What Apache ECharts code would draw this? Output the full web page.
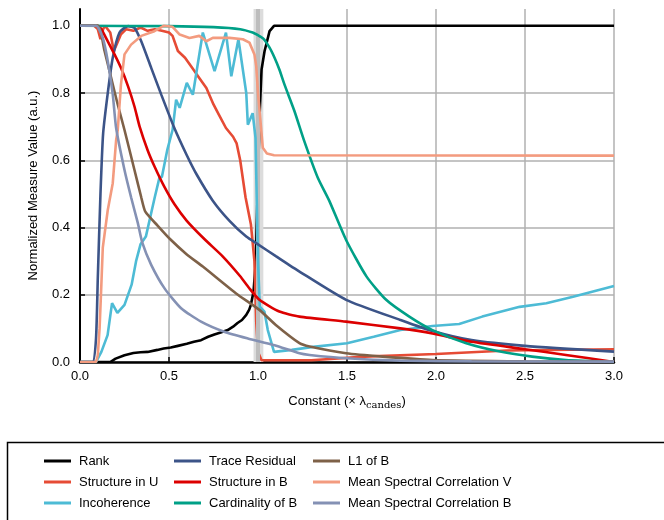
<!DOCTYPE html>
<html>
<head>
<meta charset="utf-8">
<script src="https://cdn.jsdelivr.net/npm/echarts@6/dist/echarts.min.js"></script>
<style>html,body{margin:0;padding:0;background:#fff}#c{width:664px;height:520px}</style>
</head>
<body>
<div id="c"></div>
<script>
const xTicks = [0, 0.5, 1.0, 1.5, 2.0, 2.5, 3.0];
const yTicks = [0, 0.2, 0.4, 0.6, 0.8, 1.0];
const seriesNames = ["Rank", "Structure in U", "Incoherence", "Trace Residual", "Structure in B", "Cardinality of B", "L1 of B", "Mean Spectral Correlation V", "Mean Spectral Correlation B"];

const rank = [[0,0],[0.17,0],[0.2,0.01],[0.25,0.02],[0.3,0.027],[0.34,0.029],[0.38,0.03],[0.435,0.036],[0.47,0.04],[0.51,0.043],[0.55,0.048],[0.6,0.054],[0.64,0.06],[0.68,0.065],[0.72,0.075],[0.755,0.082],[0.79,0.088],[0.83,0.095],[0.86,0.105],[0.885,0.116],[0.91,0.125],[0.934,0.14],[0.95,0.155],[0.96,0.17],[0.975,0.21],[0.985,0.28],[0.99,0.35],[1.0,0.55],[1.01,0.75],[1.02,0.87],[1.037,0.925],[1.065,0.984],[1.09,1.0],[3.0,1.0]];
const structureU = [[0,1],[0.08,1],[0.1,0.99],[0.115,0.96],[0.13,0.99],[0.14,1.0],[0.17,0.98],[0.19,0.925],[0.21,0.95],[0.23,0.975],[0.26,0.99],[0.3,0.985],[0.34,0.995],[0.38,0.985],[0.42,0.99],[0.46,0.985],[0.5,0.98],[0.52,0.97],[0.55,0.925],[0.59,0.905],[0.63,0.875],[0.67,0.845],[0.71,0.815],[0.75,0.766],[0.78,0.736],[0.82,0.696],[0.86,0.67],[0.88,0.65],[0.9,0.6],[0.93,0.49],[0.96,0.41],[0.98,0.3],[0.99,0.12],[1.0,0.03],[1.02,0.005],[1.3,0.005],[1.6,0.016],[2.0,0.024],[2.4,0.034],[3.0,0.038]];
const incoherence = [[0,0],[0.09,0],[0.12,0.03],[0.155,0.08],[0.18,0.175],[0.21,0.146],[0.25,0.17],[0.29,0.23],[0.315,0.3],[0.34,0.35],[0.37,0.373],[0.42,0.49],[0.447,0.55],[0.46,0.55],[0.49,0.63],[0.52,0.69],[0.54,0.78],[0.56,0.756],[0.6,0.83],[0.634,0.795],[0.69,0.98],[0.756,0.865],[0.82,0.98],[0.85,0.85],[0.89,0.96],[0.934,0.8],[0.943,0.706],[0.97,0.74],[0.986,0.667],[1.0,0.3],[1.01,0.165],[1.036,0.15],[1.055,0.095],[1.09,0.03],[1.19,0.036],[1.31,0.045],[1.5,0.056],[1.65,0.075],[1.8,0.095],[1.98,0.107],[2.13,0.113],[2.26,0.135],[2.47,0.164],[2.62,0.175],[2.77,0.194],[3.0,0.226]];
const traceResidual = [[0,0],[0.07,0],[0.09,0.07],[0.1,0.25],[0.115,0.5],[0.13,0.68],[0.156,0.8],[0.184,0.905],[0.222,0.98],[0.27,0.999],[0.306,0.994],[0.344,0.954],[0.4,0.875],[0.456,0.796],[0.53,0.696],[0.6,0.615],[0.653,0.56],[0.746,0.48],[0.84,0.42],[0.934,0.373],[1.0,0.35],[1.1,0.315],[1.233,0.269],[1.495,0.185],[1.8,0.125],[1.98,0.092],[2.2,0.065],[2.5,0.048],[3.0,0.031]];
const structureB = [[0,1],[0.1,1],[0.12,0.99],[0.156,0.954],[0.194,0.915],[0.23,0.875],[0.27,0.82],[0.306,0.76],[0.335,0.7],[0.38,0.63],[0.42,0.58],[0.475,0.52],[0.53,0.47],[0.6,0.42],[0.7,0.365],[0.8,0.315],[0.9,0.255],[0.95,0.22],[1.008,0.185],[1.12,0.15],[1.233,0.135],[1.495,0.12],[1.8,0.1],[1.98,0.085],[2.2,0.06],[2.5,0.038],[2.73,0.021],[3.0,0.0]];
const cardinalityB = [[0,1],[0.5,0.999],[0.75,0.996],[0.9,0.99],[0.97,0.98],[1.0,0.972],[1.03,0.962],[1.065,0.935],[1.093,0.905],[1.12,0.87],[1.149,0.825],[1.205,0.746],[1.26,0.657],[1.336,0.548],[1.4,0.48],[1.495,0.363],[1.61,0.254],[1.72,0.185],[1.85,0.135],[1.98,0.095],[2.17,0.056],[2.36,0.031],[2.54,0.016],[2.73,0.006],[3.0,0.0]];
const l1B = [[0,1],[0.1,1],[0.138,0.925],[0.175,0.845],[0.212,0.766],[0.25,0.69],[0.306,0.571],[0.344,0.49],[0.367,0.447],[0.437,0.405],[0.507,0.365],[0.6,0.32],[0.69,0.284],[0.877,0.204],[1.008,0.155],[1.1,0.11],[1.233,0.056],[1.29,0.046],[1.495,0.026],[1.7,0.016],[1.98,0.006],[2.5,0.002],[3.0,0.001]];
const mscV = [[0,0],[0.09,0],[0.1,0.02],[0.11,0.1],[0.12,0.23],[0.128,0.34],[0.156,0.452],[0.184,0.532],[0.203,0.66],[0.212,0.69],[0.23,0.825],[0.25,0.915],[0.287,0.944],[0.344,0.97],[0.418,0.984],[0.47,1.0],[0.52,0.997],[0.56,0.974],[0.615,0.964],[0.67,0.97],[0.71,0.954],[0.746,0.964],[0.84,0.964],[0.915,0.96],[0.952,0.95],[0.98,0.915],[0.99,0.88],[1.0,0.8],[1.01,0.74],[1.027,0.637],[1.05,0.62],[1.09,0.615],[3.0,0.614]];
const mscB = [[0,1],[0.09,1],[0.128,0.964],[0.156,0.895],[0.184,0.796],[0.203,0.696],[0.25,0.571],[0.287,0.49],[0.325,0.413],[0.35,0.355],[0.4,0.289],[0.475,0.219],[0.568,0.16],[0.68,0.12],[0.81,0.09],[0.943,0.07],[1.093,0.05],[1.233,0.026],[1.29,0.021],[1.495,0.011],[1.8,0.004],[2.2,0.002],[3.0,0.001]];

const seriesData = [rank, structureU, incoherence, traceResidual, structureB, cardinalityB, l1B, mscV, mscB];
const colors = ["#000000", "#E64B35", "#4DBBD5", "#3C5488", "#DC0000", "#00A087", "#7E6148", "#F39B7F", "#8491B4"];
const smoothFlags = [false, false, false, true, true, true, true, false, true];

const FONT = "'Liberation Sans', Arial, Helvetica, sans-serif";
const chart = echarts.init(document.getElementById('c'), null, {renderer: 'canvas'});

const series = seriesNames.map((n, i) => ({
  name: n, type: 'line', data: seriesData[i], symbol: 'none', z: 3 + i,
  smooth: smoothFlags[i] ? 0.2 : false,
  lineStyle: {color: colors[i], width: 2.6}, itemStyle: {color: colors[i]}
}));
series.unshift({
  name: '_band', type: 'line', data: [], z: 1, silent: true,
  markArea: {silent: true, itemStyle: {color: '#dcdcdc'}, data: [[{xAxis: 0.975}, {xAxis: 1.03}]]},
  markLine: {silent: true, symbol: 'none', label: {show: false}, lineStyle: {color: '#bdbdbd', width: 4, type: 'solid'}, data: [{xAxis: 1.0}]}
});

function legendCol(names, left) {
  return {
    orient: 'vertical', left: left, top: 449, itemGap: 7, itemWidth: 27, itemHeight: 3, icon: 'rect',
    data: names, selectedMode: false,
    textStyle: {fontFamily: FONT, fontSize: 13, color: '#000', lineHeight: 14, padding: [0, 0, 0, 3]}
  };
}

chart.setOption({
  animation: false,
  backgroundColor: '#fff',
  grid: {left: 80, right: 50, top: 9, bottom: 158},
  legend: [
    legendCol(seriesNames.slice(0, 3), 39),
    legendCol(seriesNames.slice(3, 6), 169),
    legendCol(seriesNames.slice(6, 9), 308)
  ],
  graphic: [{type: 'rect', left: 5, top: 440, shape: {width: 700, height: 100}, style: {fill: 'none', stroke: '#000', lineWidth: 1.5}}],
  xAxis: {
    type: 'value', min: 0, max: 3, interval: 0.5,
    name: 'Constant (× λ{sub|candes})', nameLocation: 'middle', nameGap: 31,
    nameTextStyle: {fontFamily: FONT, fontSize: 13, color: '#000',
      rich: {sub: {fontFamily: "'DejaVu Serif', serif", fontSize: 10, color: '#000', padding: [7, 0, 0, 0]}}},
    axisLine: {show: true, lineStyle: {color: '#000', width: 2.5}},
    axisTick: {show: true, inside: true, length: 5, lineStyle: {color: '#000', width: 1.5}},
    axisLabel: {fontFamily: FONT, fontSize: 13, color: '#000', margin: 8, formatter: v => v.toFixed(1)},
    splitLine: {show: true, lineStyle: {color: '#b0b0b0', width: 1.5}}
  },
  yAxis: {
    type: 'value', min: 0, max: 1.05, interval: 0.2,
    name: 'Normalized Measure Value (a.u.)', nameLocation: 'middle', nameGap: 40,
    nameTextStyle: {fontFamily: FONT, fontSize: 13, color: '#000'},
    axisLine: {show: true, lineStyle: {color: '#000', width: 2}},
    axisTick: {show: true, inside: true, length: 5, lineStyle: {color: '#000', width: 1.5}, customValues: yTicks},
    axisLabel: {fontFamily: FONT, fontSize: 13, color: '#000', margin: 10,
      customValues: yTicks, formatter: v => v.toFixed(1)},
    splitLine: {show: true, showMaxLine: false, lineStyle: {color: '#b0b0b0', width: 1.5}}
  },
  series: series
});
</script>
</body>
</html>
